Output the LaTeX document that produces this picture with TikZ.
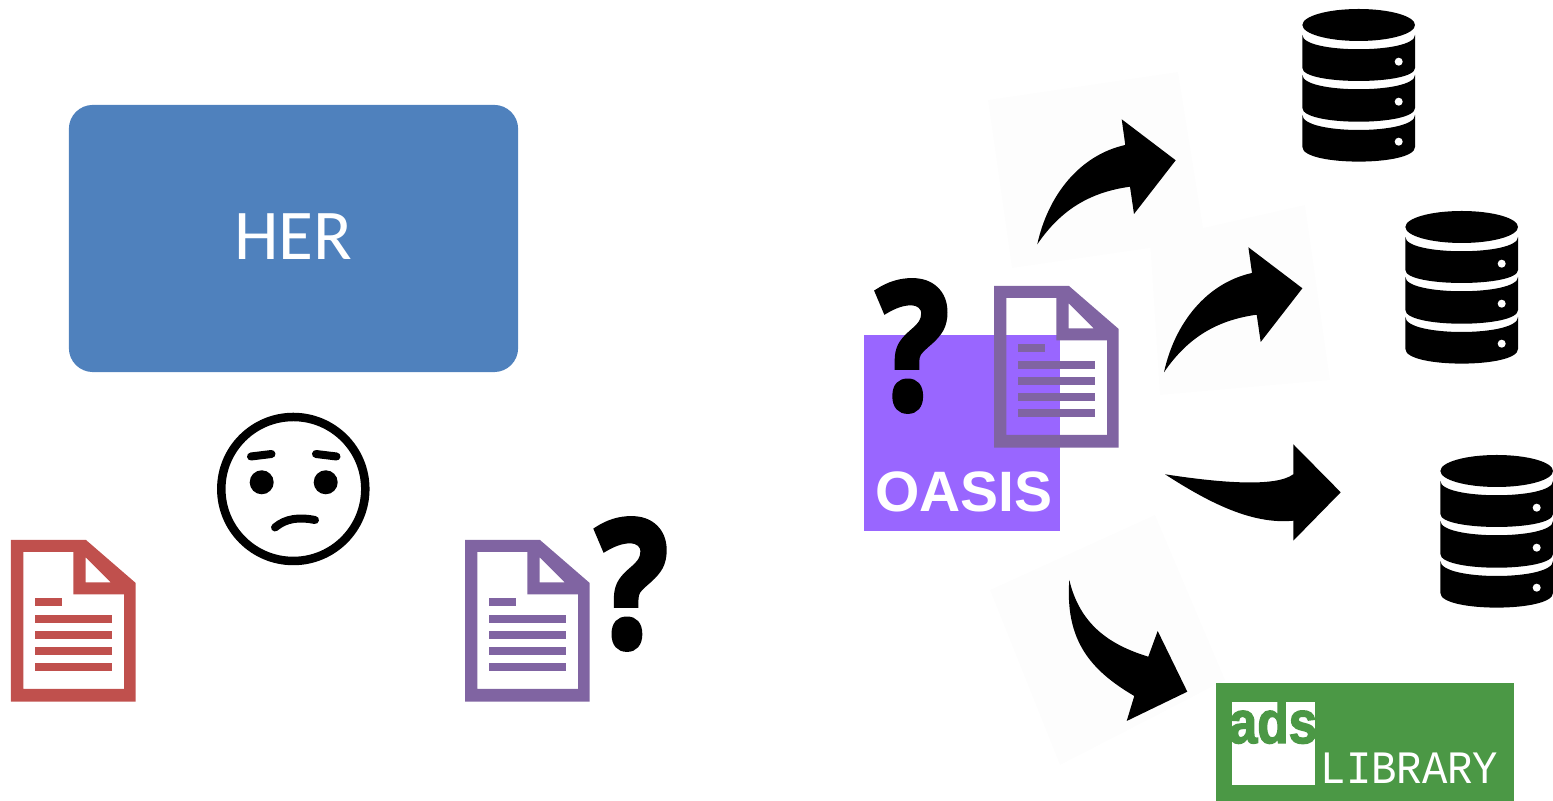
\documentclass[tikz,border=0pt]{standalone}
\usepackage{fontspec}
\setmainfont{Carlito}
\newfontfamily\markfont[FakeBold=3.5]{Open Sans}
\newfontfamily\logofont{Liberation Sans}
\newfontfamily\adsfont[FakeBold=2.5]{Liberation Sans}
\newfontfamily\libraryfont{Liberation Mono}
\definecolor{herblue}{HTML}{4F81BD}
\definecolor{docred}{HTML}{C0504D}
\definecolor{docpurple}{HTML}{8064A2}
\definecolor{oasispurple}{HTML}{9966FF}
\definecolor{adsgreen}{HTML}{4B9845}
\definecolor{ghostgray}{HTML}{FDFDFD}
\tikzset{
    qmark/.style={inner sep=0pt, xscale=0.85, font=\markfont\bfseries\fontsize{50}{50}\selectfont},
    faceline/.style={line width=0.08cm, line cap=round},
    ghost/.style={fill=ghostgray}
}
% document icon: left, top, colour
\newcommand{\docicon}[3]{%
    \begin{scope}[shift={(#1,#2)}]
        \fill [#3, even odd rule] (0,0) -- (75,0) -- (124.7,43) -- (124.7,161.7) -- (0,161.7) -- cycle
            (12.3,12) -- (62.3,12) -- (62.3,54.3) -- (113,54.3) -- (113,149) -- (12.3,149) -- cycle
            (74.7,17.3) -- (99.7,42.3) -- (74.7,42.3) -- cycle;%
        \fill [#3] (24.3,58.3) rectangle (50.7,66.3);%
        \foreach \texty in {74.7,90.7,107,123} {
            \fill [#3] (24.3,\texty) rectangle (101,\texty+8);%
        }
    \end{scope}%
}
% database icon: centre, top
\newcommand{\dbicon}[2]{%
    \begin{scope}[shift={(#1,#2)}]
        \fill (0,16) ellipse [x radius=56.3, y radius=16];%
        \fill (-56.3,26) .. controls (-56.3,45) and (56.3,45) .. (56.3,26) -- (56.3,59)
            .. controls (56.3,76.3) and (-56.3,76.3) .. (-56.3,59) -- cycle;%
        \fill (-56.3,66) .. controls (-56.3,85) and (56.3,85) .. (56.3,66) -- (56.3,99)
            .. controls (56.3,117.3) and (-56.3,117.3) .. (-56.3,99) -- cycle;%
        \fill (-56.3,106) .. controls (-56.3,126) and (56.3,126) .. (56.3,106) -- (56.3,138)
            .. controls (56.3,157.5) and (-56.3,157.5) .. (-56.3,138) -- cycle;%
        \foreach \doty in {52.7,92.7,132.7} {
            \fill [white] (40,\doty) circle (4);%
        }
    \end{scope}%
}
\begin{document}
\begin{tikzpicture}[x=0.01cm, y=-0.01cm]
    \useasboundingbox (0,0) rectangle (1553,801);

    % Drawing box HER
    \node (her) [fill=herblue, minimum width=4.49cm, minimum height=2.67cm, rounded corners=0.24cm,
        inner sep=0pt, text=white, font=\fontsize{20.3}{20.3}\selectfont] at (293.5,238.5) {\raisebox{0.04cm}{HER}};%

    % Drawing face
    \draw [line width=0.085cm] (293.3,489) circle (72);%
    \fill (261.7,482.3) circle (12);%
    \fill (325.7,482.3) circle (12);%
    \draw [faceline] (251,456.5) -- (271.5,454);%
    \draw [faceline] (316,454) -- (336.5,456.5);%
    \draw [faceline] (275,527.5) .. controls (286,518) and (300,517) .. (315,520);%

    % Drawing documents on the left
    \docicon{11}{540}{docred}%
    \docicon{465}{540}{docpurple}%
    \node (leftmark) [qmark] at (632,584) {?};%

    % Drawing box OASIS
    \fill [oasispurple] (864,335) rectangle (1060,531);%
    \node (oasis) [inner sep=0pt, text=white, font=\logofont\bfseries\fontsize{16.2}{16.2}\selectfont] at (964,492) {OASIS};%
    \docicon{994}{286}{docpurple}%
    \node (oasismark) [qmark] at (912.8,346) {?};%

    % Marking faint pieces behind arrows
    \fill [ghost] (988,100) -- (1178,72) -- (1205,240) -- (1012,268) -- cycle;%
    \fill [ghost] (1150,240) -- (1305,205) -- (1330,380) -- (1160,395) -- cycle;%
    \fill [ghost] (990,590) -- (1155,515) -- (1225,680) -- (1060,765) -- cycle;%

    % Drawing arrows to databases
    \foreach \shiftx/\shifty in {0/0,126.7/128} {
        \fill [shift={(\shiftx,\shifty)}] (1037.3,244.3) .. controls (1048,195) and (1080,155) .. (1125.3,145)
            -- (1121.7,119.3) -- (1175.7,160.3) -- (1134,214) -- (1130,186.7)
            .. controls (1092,192) and (1062,208) .. (1037.3,244.3) -- cycle;%
    }
    \fill (1165,474.3) .. controls (1215,482) and (1275,488) .. (1293.3,474.3)
        -- (1293.3,444.3) -- (1340.7,492.3) -- (1293.3,540.7) -- (1293.3,520.7)
        .. controls (1250,525) and (1205,500) .. (1165,474.3) -- cycle;%

    % Drawing arrow to library
    \fill (1069.3,580) .. controls (1080,625) and (1110,645) .. (1148.3,656.7)
        -- (1157.7,631) -- (1187.3,691.7) -- (1126.7,721) -- (1134.3,696)
        .. controls (1090,670) and (1065,640) .. (1069.3,580) -- cycle;%

    % Drawing databases
    \dbicon{1358.7}{9}%
    \dbicon{1461.7}{211}%
    \dbicon{1496.7}{455}%

    % Drawing logo ADS
    \fill [adsgreen] (1216,682.7) rectangle (1514,800.7);%
    \fill [white] (1231.7,702.3) rectangle (1315,785);%
    \node (ads) [inner sep=0pt, xscale=0.86, text=adsgreen, font=\adsfont\bfseries\fontsize{17}{17}\selectfont, anchor=base] at (1273,743) {ads};%
    \node (library) [inner sep=0pt, xscale=0.91, text=white, font=\libraryfont\fontsize{13.2}{13.2}\selectfont, anchor=base] at (1409.5,783.3) {LIBRARY};%
\end{tikzpicture}
\end{document}
